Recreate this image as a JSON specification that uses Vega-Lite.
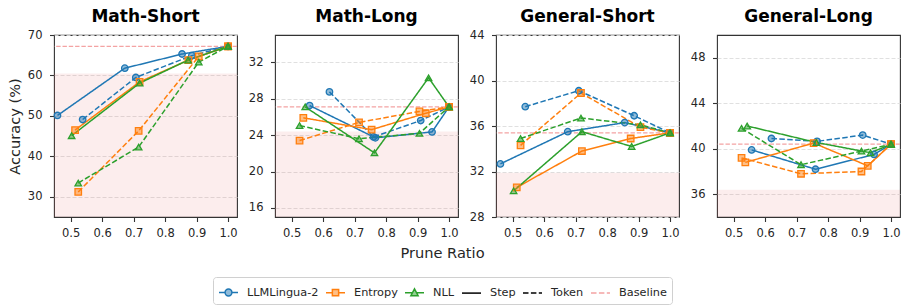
{
  "$schema": "https://vega.github.io/schema/vega-lite/v6.json",
  "padding": {"left": 6, "top": 6, "right": 3, "bottom": 3},
  "bounds": "flush",
  "spacing": 38,
  "datasets": {
    "ref": [
      {"p": "Math-Short", "base": 67.2, "shade": 60.5},
      {"p": "Math-Long", "base": 27.1, "shade": 24.4},
      {"p": "General-Short", "base": 35.4, "shade": 31.9},
      {"p": "General-Long", "base": 40.4, "shade": 36.4}
    ],
    "acc": [
      {"p": "Math-Short", "m": "LLMLingua-2", "t": "Step", "r": 0.458, "a": 50.1},
      {"p": "Math-Short", "m": "LLMLingua-2", "t": "Step", "r": 0.672, "a": 61.8},
      {"p": "Math-Short", "m": "LLMLingua-2", "t": "Step", "r": 0.854, "a": 65.3},
      {"p": "Math-Short", "m": "LLMLingua-2", "t": "Step", "r": 1.0, "a": 67.2},
      {"p": "Math-Short", "m": "LLMLingua-2", "t": "Token", "r": 0.538, "a": 49.1},
      {"p": "Math-Short", "m": "LLMLingua-2", "t": "Token", "r": 0.707, "a": 59.5},
      {"p": "Math-Short", "m": "LLMLingua-2", "t": "Token", "r": 0.885, "a": 64.9},
      {"p": "Math-Short", "m": "LLMLingua-2", "t": "Token", "r": 1.0, "a": 67.2},
      {"p": "Math-Short", "m": "Entropy", "t": "Step", "r": 0.514, "a": 46.5},
      {"p": "Math-Short", "m": "Entropy", "t": "Step", "r": 0.719, "a": 58.4},
      {"p": "Math-Short", "m": "Entropy", "t": "Step", "r": 0.874, "a": 63.8},
      {"p": "Math-Short", "m": "Entropy", "t": "Step", "r": 1.0, "a": 67.2},
      {"p": "Math-Short", "m": "Entropy", "t": "Token", "r": 0.524, "a": 31.2},
      {"p": "Math-Short", "m": "Entropy", "t": "Token", "r": 0.716, "a": 46.3},
      {"p": "Math-Short", "m": "Entropy", "t": "Token", "r": 0.907, "a": 64.7},
      {"p": "Math-Short", "m": "Entropy", "t": "Token", "r": 1.0, "a": 67.2},
      {"p": "Math-Short", "m": "NLL", "t": "Step", "r": 0.503, "a": 45.1},
      {"p": "Math-Short", "m": "NLL", "t": "Step", "r": 0.719, "a": 58.1},
      {"p": "Math-Short", "m": "NLL", "t": "Step", "r": 0.873, "a": 63.8},
      {"p": "Math-Short", "m": "NLL", "t": "Step", "r": 1.0, "a": 67.2},
      {"p": "Math-Short", "m": "NLL", "t": "Token", "r": 0.524, "a": 33.4},
      {"p": "Math-Short", "m": "NLL", "t": "Token", "r": 0.716, "a": 42.3},
      {"p": "Math-Short", "m": "NLL", "t": "Token", "r": 0.907, "a": 63.3},
      {"p": "Math-Short", "m": "NLL", "t": "Token", "r": 1.0, "a": 67.2},

      {"p": "Math-Long", "m": "LLMLingua-2", "t": "Step", "r": 0.557, "a": 27.25},
      {"p": "Math-Long", "m": "LLMLingua-2", "t": "Step", "r": 0.766, "a": 23.7},
      {"p": "Math-Long", "m": "LLMLingua-2", "t": "Step", "r": 0.946, "a": 24.35},
      {"p": "Math-Long", "m": "LLMLingua-2", "t": "Step", "r": 1.0, "a": 27.1},
      {"p": "Math-Long", "m": "LLMLingua-2", "t": "Token", "r": 0.62, "a": 28.75},
      {"p": "Math-Long", "m": "LLMLingua-2", "t": "Token", "r": 0.76, "a": 23.8},
      {"p": "Math-Long", "m": "LLMLingua-2", "t": "Token", "r": 0.91, "a": 25.6},
      {"p": "Math-Long", "m": "LLMLingua-2", "t": "Token", "r": 1.0, "a": 27.1},
      {"p": "Math-Long", "m": "Entropy", "t": "Step", "r": 0.537, "a": 25.9},
      {"p": "Math-Long", "m": "Entropy", "t": "Step", "r": 0.754, "a": 24.6},
      {"p": "Math-Long", "m": "Entropy", "t": "Step", "r": 0.926, "a": 26.4},
      {"p": "Math-Long", "m": "Entropy", "t": "Step", "r": 1.0, "a": 27.1},
      {"p": "Math-Long", "m": "Entropy", "t": "Token", "r": 0.525, "a": 23.4},
      {"p": "Math-Long", "m": "Entropy", "t": "Token", "r": 0.714, "a": 25.4},
      {"p": "Math-Long", "m": "Entropy", "t": "Token", "r": 0.906, "a": 26.6},
      {"p": "Math-Long", "m": "Entropy", "t": "Token", "r": 1.0, "a": 27.1},
      {"p": "Math-Long", "m": "NLL", "t": "Step", "r": 0.543, "a": 27.1},
      {"p": "Math-Long", "m": "NLL", "t": "Step", "r": 0.763, "a": 22.05},
      {"p": "Math-Long", "m": "NLL", "t": "Step", "r": 0.935, "a": 30.3},
      {"p": "Math-Long", "m": "NLL", "t": "Step", "r": 1.0, "a": 27.1},
      {"p": "Math-Long", "m": "NLL", "t": "Token", "r": 0.525, "a": 25.05},
      {"p": "Math-Long", "m": "NLL", "t": "Token", "r": 0.714, "a": 23.6},
      {"p": "Math-Long", "m": "NLL", "t": "Token", "r": 0.906, "a": 24.2},
      {"p": "Math-Long", "m": "NLL", "t": "Token", "r": 1.0, "a": 27.1},

      {"p": "General-Short", "m": "LLMLingua-2", "t": "Step", "r": 0.461, "a": 32.67},
      {"p": "General-Short", "m": "LLMLingua-2", "t": "Step", "r": 0.675, "a": 35.5},
      {"p": "General-Short", "m": "LLMLingua-2", "t": "Step", "r": 0.856, "a": 36.3},
      {"p": "General-Short", "m": "LLMLingua-2", "t": "Step", "r": 1.0, "a": 35.4},
      {"p": "General-Short", "m": "LLMLingua-2", "t": "Token", "r": 0.54, "a": 37.7},
      {"p": "General-Short", "m": "LLMLingua-2", "t": "Token", "r": 0.71, "a": 39.1},
      {"p": "General-Short", "m": "LLMLingua-2", "t": "Token", "r": 0.886, "a": 36.9},
      {"p": "General-Short", "m": "LLMLingua-2", "t": "Token", "r": 1.0, "a": 35.4},
      {"p": "General-Short", "m": "Entropy", "t": "Step", "r": 0.513, "a": 30.6},
      {"p": "General-Short", "m": "Entropy", "t": "Step", "r": 0.72, "a": 33.8},
      {"p": "General-Short", "m": "Entropy", "t": "Step", "r": 0.875, "a": 34.9},
      {"p": "General-Short", "m": "Entropy", "t": "Step", "r": 1.0, "a": 35.4},
      {"p": "General-Short", "m": "Entropy", "t": "Token", "r": 0.525, "a": 34.3},
      {"p": "General-Short", "m": "Entropy", "t": "Token", "r": 0.717, "a": 38.9},
      {"p": "General-Short", "m": "Entropy", "t": "Token", "r": 0.906, "a": 35.9},
      {"p": "General-Short", "m": "Entropy", "t": "Token", "r": 1.0, "a": 35.4},
      {"p": "General-Short", "m": "NLL", "t": "Step", "r": 0.503, "a": 30.3},
      {"p": "General-Short", "m": "NLL", "t": "Step", "r": 0.72, "a": 35.5},
      {"p": "General-Short", "m": "NLL", "t": "Step", "r": 0.878, "a": 34.2},
      {"p": "General-Short", "m": "NLL", "t": "Step", "r": 1.0, "a": 35.4},
      {"p": "General-Short", "m": "NLL", "t": "Token", "r": 0.525, "a": 34.9},
      {"p": "General-Short", "m": "NLL", "t": "Token", "r": 0.717, "a": 36.7},
      {"p": "General-Short", "m": "NLL", "t": "Token", "r": 0.906, "a": 36.1},
      {"p": "General-Short", "m": "NLL", "t": "Token", "r": 1.0, "a": 35.4},

      {"p": "General-Long", "m": "LLMLingua-2", "t": "Step", "r": 0.557, "a": 39.9},
      {"p": "General-Long", "m": "LLMLingua-2", "t": "Step", "r": 0.76, "a": 38.2},
      {"p": "General-Long", "m": "LLMLingua-2", "t": "Step", "r": 0.946, "a": 39.5},
      {"p": "General-Long", "m": "LLMLingua-2", "t": "Step", "r": 1.0, "a": 40.4},
      {"p": "General-Long", "m": "LLMLingua-2", "t": "Token", "r": 0.62, "a": 40.9},
      {"p": "General-Long", "m": "LLMLingua-2", "t": "Token", "r": 0.765, "a": 40.65},
      {"p": "General-Long", "m": "LLMLingua-2", "t": "Token", "r": 0.91, "a": 41.2},
      {"p": "General-Long", "m": "LLMLingua-2", "t": "Token", "r": 1.0, "a": 40.4},
      {"p": "General-Long", "m": "Entropy", "t": "Step", "r": 0.537, "a": 38.8},
      {"p": "General-Long", "m": "Entropy", "t": "Step", "r": 0.754, "a": 40.5},
      {"p": "General-Long", "m": "Entropy", "t": "Step", "r": 0.926, "a": 38.5},
      {"p": "General-Long", "m": "Entropy", "t": "Step", "r": 1.0, "a": 40.4},
      {"p": "General-Long", "m": "Entropy", "t": "Token", "r": 0.525, "a": 39.2},
      {"p": "General-Long", "m": "Entropy", "t": "Token", "r": 0.714, "a": 37.8},
      {"p": "General-Long", "m": "Entropy", "t": "Token", "r": 0.906, "a": 38.0},
      {"p": "General-Long", "m": "Entropy", "t": "Token", "r": 1.0, "a": 40.4},
      {"p": "General-Long", "m": "NLL", "t": "Step", "r": 0.543, "a": 42.0},
      {"p": "General-Long", "m": "NLL", "t": "Step", "r": 0.763, "a": 40.55},
      {"p": "General-Long", "m": "NLL", "t": "Step", "r": 0.935, "a": 39.65},
      {"p": "General-Long", "m": "NLL", "t": "Step", "r": 1.0, "a": 40.4},
      {"p": "General-Long", "m": "NLL", "t": "Token", "r": 0.525, "a": 41.8},
      {"p": "General-Long", "m": "NLL", "t": "Token", "r": 0.714, "a": 38.6},
      {"p": "General-Long", "m": "NLL", "t": "Token", "r": 0.906, "a": 39.8},
      {"p": "General-Long", "m": "NLL", "t": "Token", "r": 1.0, "a": 40.4}
    ]
  },
  "hconcat": [
    {
      "width": 183, "height": 182,
      "title": {"text": "Math-Short", "offset": 3.5},
      "layer": [
        {"data": {"name": "ref"}, "transform": [{"filter": "datum.p === 'Math-Short'"}],
         "mark": {"type": "rect", "color": "#e34a4a", "opacity": 0.1},
         "encoding": {"y": {"field": "shade", "type": "quantitative", "scale": {"domain": [25, 70], "nice": false, "zero": false}, "axis": {"title": "Accuracy (%)", "values": [30, 40, 50, 60, 70]}}, "y2": {"datum": 25}}},
        {"data": {"name": "ref"}, "transform": [{"filter": "datum.p === 'Math-Short'"}],
         "mark": {"type": "rule", "color": "#f4a3a3", "strokeDash": [4.4, 1.9], "strokeWidth": 1.2},
         "encoding": {"y": {"field": "base", "type": "quantitative", "scale": {"domain": [25, 70], "nice": false, "zero": false}, "axis": {"title": "Accuracy (%)", "values": [30, 40, 50, 60, 70]}}}},
        {"data": {"name": "acc"}, "transform": [{"filter": "datum.p === 'Math-Short'"}],
         "mark": {"type": "line", "strokeWidth": 1.5},
         "encoding": {
           "x": {"field": "r", "type": "quantitative", "scale": {"domain": [0.447, 1.0285], "nice": false, "zero": false}, "axis": {"title": null, "values": [0.5, 0.6, 0.7, 0.8, 0.9, 1.0], "format": ".1f"}},
           "y": {"field": "a", "type": "quantitative", "scale": {"domain": [25, 70], "nice": false, "zero": false}, "axis": {"title": "Accuracy (%)", "values": [30, 40, 50, 60, 70]}},
           "color": {"field": "m", "type": "nominal", "scale": {"domain": ["LLMLingua-2", "Entropy", "NLL", "Step", "Token", "Baseline"], "range": ["#1f77b4", "#ff7f0e", "#2ca02c", "#000000", "#000000", "#f4a3a3"]},
             "legend": {"title": null, "orient": "none", "legendX": 159, "legendY": 242, "direction": "horizontal", "columns": 6, "columnPadding": 4, "labelOffset": 8, "padding": 5, "strokeColor": "#d0d0d0", "cornerRadius": 3, "fillColor": "#ffffff", "symbolSize": 361,
               "encode": {"symbols": {"update": {
                 "shape": {"signal": "datum.value === 'LLMLingua-2' ? 'M-1,0H-0.36M0.36,0H1M0.36,0A0.36,0.36,0,1,1,-0.36,0A0.36,0.36,0,1,1,0.36,0Z' : datum.value === 'Entropy' ? 'M-1,0H-0.33M0.33,0H1M-0.33,-0.33H0.33V0.33H-0.33Z' : datum.value === 'NLL' ? 'M-1,0H-0.22M0.22,0H1M0,-0.42L0.38,0.3H-0.38Z' : 'M-1,0H1'"},
                 "stroke": {"scale": "color", "field": "value"},
                 "fill": {"signal": "indexof(['LLMLingua-2','Entropy','NLL'], datum.value) >= 0 ? scale('color', datum.value) : 'transparent'"},
                 "fillOpacity": {"value": 0.5},
                 "strokeDash": {"signal": "datum.value === 'Token' || datum.value === 'Baseline' ? [5.5, 2.4] : []"},
                 "strokeWidth": {"value": 1.5},
                 "opacity": {"value": 1},
                 "size": {"value": 361}}}}}},
           "strokeDash": {"field": "t", "type": "nominal", "scale": {"domain": ["Step", "Token"], "range": [[1, 0], [5.5, 2.4]]}, "legend": null}
         }},
        {"data": {"name": "acc"}, "transform": [{"filter": "datum.p === 'Math-Short'"}],
         "mark": {"type": "point", "filled": true, "opacity": 1, "fillOpacity": 0.5, "size": 42},
         "encoding": {
           "x": {"field": "r", "type": "quantitative", "scale": {"domain": [0.447, 1.0285], "nice": false, "zero": false}, "axis": {"title": null, "values": [0.5, 0.6, 0.7, 0.8, 0.9, 1.0], "format": ".1f"}},
           "y": {"field": "a", "type": "quantitative", "scale": {"domain": [25, 70], "nice": false, "zero": false}, "axis": {"title": "Accuracy (%)", "values": [30, 40, 50, 60, 70]}},
           "color": {"field": "m", "type": "nominal", "legend": null},
           "shape": {"field": "m", "type": "nominal", "scale": {"domain": ["LLMLingua-2", "Entropy", "NLL"], "range": ["circle", "square", "triangle-up"]}, "legend": null}
         }},
        {"data": {"name": "acc"}, "transform": [{"filter": "datum.p === 'Math-Short'"}],
         "mark": {"type": "point", "filled": false, "opacity": 1, "strokeWidth": 1.3, "size": 42},
         "encoding": {
           "x": {"field": "r", "type": "quantitative", "scale": {"domain": [0.447, 1.0285], "nice": false, "zero": false}, "axis": {"title": null, "values": [0.5, 0.6, 0.7, 0.8, 0.9, 1.0], "format": ".1f"}},
           "y": {"field": "a", "type": "quantitative", "scale": {"domain": [25, 70], "nice": false, "zero": false}, "axis": {"title": "Accuracy (%)", "values": [30, 40, 50, 60, 70]}},
           "color": {"field": "m", "type": "nominal", "legend": null},
           "shape": {"field": "m", "type": "nominal", "legend": null}
         }}
      ]
    },
    {
      "width": 183, "height": 182,
      "title": {"text": "Math-Long", "offset": 9.5},
      "layer": [
        {"data": {"name": "ref"}, "transform": [{"filter": "datum.p === 'Math-Long'"}],
         "mark": {"type": "rect", "color": "#e34a4a", "opacity": 0.1},
         "encoding": {"y": {"field": "shade", "type": "quantitative", "scale": {"domain": [15, 35], "nice": false, "zero": false}, "axis": {"title": null, "values": [16, 20, 24, 28, 32]}}, "y2": {"datum": 15}}},
        {"data": {"name": "ref"}, "transform": [{"filter": "datum.p === 'Math-Long'"}],
         "mark": {"type": "rule", "color": "#f4a3a3", "strokeDash": [4.4, 1.9], "strokeWidth": 1.2},
         "encoding": {"y": {"field": "base", "type": "quantitative", "scale": {"domain": [15, 35], "nice": false, "zero": false}, "axis": {"title": null, "values": [16, 20, 24, 28, 32]}}}},
        {"data": {"name": "acc"}, "transform": [{"filter": "datum.p === 'Math-Long'"}],
         "mark": {"type": "line", "strokeWidth": 1.5},
         "encoding": {
           "x": {"field": "r", "type": "quantitative", "scale": {"domain": [0.447, 1.0285], "nice": false, "zero": false}, "axis": {"title": "Prune Ratio", "titleX": 167, "values": [0.5, 0.6, 0.7, 0.8, 0.9, 1.0], "format": ".1f"}},
           "y": {"field": "a", "type": "quantitative", "scale": {"domain": [15, 35], "nice": false, "zero": false}, "axis": {"title": null, "values": [16, 20, 24, 28, 32]}},
           "color": {"field": "m", "type": "nominal", "legend": null},
           "strokeDash": {"field": "t", "type": "nominal", "legend": null}
         }},
        {"data": {"name": "acc"}, "transform": [{"filter": "datum.p === 'Math-Long'"}],
         "mark": {"type": "point", "filled": true, "opacity": 1, "fillOpacity": 0.5, "size": 42},
         "encoding": {
           "x": {"field": "r", "type": "quantitative", "scale": {"domain": [0.447, 1.0285], "nice": false, "zero": false}, "axis": {"title": "Prune Ratio", "titleX": 167, "values": [0.5, 0.6, 0.7, 0.8, 0.9, 1.0], "format": ".1f"}},
           "y": {"field": "a", "type": "quantitative", "scale": {"domain": [15, 35], "nice": false, "zero": false}, "axis": {"title": null, "values": [16, 20, 24, 28, 32]}},
           "color": {"field": "m", "type": "nominal", "legend": null},
           "shape": {"field": "m", "type": "nominal", "legend": null}
         }},
        {"data": {"name": "acc"}, "transform": [{"filter": "datum.p === 'Math-Long'"}],
         "mark": {"type": "point", "filled": false, "opacity": 1, "strokeWidth": 1.3, "size": 42},
         "encoding": {
           "x": {"field": "r", "type": "quantitative", "scale": {"domain": [0.447, 1.0285], "nice": false, "zero": false}, "axis": {"title": "Prune Ratio", "titleX": 167, "values": [0.5, 0.6, 0.7, 0.8, 0.9, 1.0], "format": ".1f"}},
           "y": {"field": "a", "type": "quantitative", "scale": {"domain": [15, 35], "nice": false, "zero": false}, "axis": {"title": null, "values": [16, 20, 24, 28, 32]}},
           "color": {"field": "m", "type": "nominal", "legend": null},
           "shape": {"field": "m", "type": "nominal", "legend": null}
         }}
      ]
    },
    {
      "width": 183, "height": 182,
      "title": {"text": "General-Short", "offset": 3.5},
      "layer": [
        {"data": {"name": "ref"}, "transform": [{"filter": "datum.p === 'General-Short'"}],
         "mark": {"type": "rect", "color": "#e34a4a", "opacity": 0.1},
         "encoding": {"y": {"field": "shade", "type": "quantitative", "scale": {"domain": [28, 44], "nice": false, "zero": false}, "axis": {"title": null, "values": [28, 32, 36, 40, 44]}}, "y2": {"datum": 28}}},
        {"data": {"name": "ref"}, "transform": [{"filter": "datum.p === 'General-Short'"}],
         "mark": {"type": "rule", "color": "#f4a3a3", "strokeDash": [4.4, 1.9], "strokeWidth": 1.2},
         "encoding": {"y": {"field": "base", "type": "quantitative", "scale": {"domain": [28, 44], "nice": false, "zero": false}, "axis": {"title": null, "values": [28, 32, 36, 40, 44]}}}},
        {"data": {"name": "acc"}, "transform": [{"filter": "datum.p === 'General-Short'"}],
         "mark": {"type": "line", "strokeWidth": 1.5},
         "encoding": {
           "x": {"field": "r", "type": "quantitative", "scale": {"domain": [0.447, 1.0285], "nice": false, "zero": false}, "axis": {"title": null, "values": [0.5, 0.6, 0.7, 0.8, 0.9, 1.0], "format": ".1f"}},
           "y": {"field": "a", "type": "quantitative", "scale": {"domain": [28, 44], "nice": false, "zero": false}, "axis": {"title": null, "values": [28, 32, 36, 40, 44]}},
           "color": {"field": "m", "type": "nominal", "legend": null},
           "strokeDash": {"field": "t", "type": "nominal", "legend": null}
         }},
        {"data": {"name": "acc"}, "transform": [{"filter": "datum.p === 'General-Short'"}],
         "mark": {"type": "point", "filled": true, "opacity": 1, "fillOpacity": 0.5, "size": 42},
         "encoding": {
           "x": {"field": "r", "type": "quantitative", "scale": {"domain": [0.447, 1.0285], "nice": false, "zero": false}, "axis": {"title": null, "values": [0.5, 0.6, 0.7, 0.8, 0.9, 1.0], "format": ".1f"}},
           "y": {"field": "a", "type": "quantitative", "scale": {"domain": [28, 44], "nice": false, "zero": false}, "axis": {"title": null, "values": [28, 32, 36, 40, 44]}},
           "color": {"field": "m", "type": "nominal", "legend": null},
           "shape": {"field": "m", "type": "nominal", "legend": null}
         }},
        {"data": {"name": "acc"}, "transform": [{"filter": "datum.p === 'General-Short'"}],
         "mark": {"type": "point", "filled": false, "opacity": 1, "strokeWidth": 1.3, "size": 42},
         "encoding": {
           "x": {"field": "r", "type": "quantitative", "scale": {"domain": [0.447, 1.0285], "nice": false, "zero": false}, "axis": {"title": null, "values": [0.5, 0.6, 0.7, 0.8, 0.9, 1.0], "format": ".1f"}},
           "y": {"field": "a", "type": "quantitative", "scale": {"domain": [28, 44], "nice": false, "zero": false}, "axis": {"title": null, "values": [28, 32, 36, 40, 44]}},
           "color": {"field": "m", "type": "nominal", "legend": null},
           "shape": {"field": "m", "type": "nominal", "legend": null}
         }}
      ]
    },
    {
      "width": 183, "height": 182,
      "title": {"text": "General-Long", "offset": 9.5},
      "layer": [
        {"data": {"name": "ref"}, "transform": [{"filter": "datum.p === 'General-Long'"}],
         "mark": {"type": "rect", "color": "#e34a4a", "opacity": 0.1},
         "encoding": {"y": {"field": "shade", "type": "quantitative", "scale": {"domain": [34, 50], "nice": false, "zero": false}, "axis": {"title": null, "values": [36, 40, 44, 48]}}, "y2": {"datum": 34}}},
        {"data": {"name": "ref"}, "transform": [{"filter": "datum.p === 'General-Long'"}],
         "mark": {"type": "rule", "color": "#f4a3a3", "strokeDash": [4.4, 1.9], "strokeWidth": 1.2},
         "encoding": {"y": {"field": "base", "type": "quantitative", "scale": {"domain": [34, 50], "nice": false, "zero": false}, "axis": {"title": null, "values": [36, 40, 44, 48]}}}},
        {"data": {"name": "acc"}, "transform": [{"filter": "datum.p === 'General-Long'"}],
         "mark": {"type": "line", "strokeWidth": 1.5},
         "encoding": {
           "x": {"field": "r", "type": "quantitative", "scale": {"domain": [0.447, 1.0285], "nice": false, "zero": false}, "axis": {"title": null, "values": [0.5, 0.6, 0.7, 0.8, 0.9, 1.0], "format": ".1f"}},
           "y": {"field": "a", "type": "quantitative", "scale": {"domain": [34, 50], "nice": false, "zero": false}, "axis": {"title": null, "values": [36, 40, 44, 48]}},
           "color": {"field": "m", "type": "nominal", "legend": null},
           "strokeDash": {"field": "t", "type": "nominal", "legend": null}
         }},
        {"data": {"name": "acc"}, "transform": [{"filter": "datum.p === 'General-Long'"}],
         "mark": {"type": "point", "filled": true, "opacity": 1, "fillOpacity": 0.5, "size": 42},
         "encoding": {
           "x": {"field": "r", "type": "quantitative", "scale": {"domain": [0.447, 1.0285], "nice": false, "zero": false}, "axis": {"title": null, "values": [0.5, 0.6, 0.7, 0.8, 0.9, 1.0], "format": ".1f"}},
           "y": {"field": "a", "type": "quantitative", "scale": {"domain": [34, 50], "nice": false, "zero": false}, "axis": {"title": null, "values": [36, 40, 44, 48]}},
           "color": {"field": "m", "type": "nominal", "legend": null},
           "shape": {"field": "m", "type": "nominal", "legend": null}
         }},
        {"data": {"name": "acc"}, "transform": [{"filter": "datum.p === 'General-Long'"}],
         "mark": {"type": "point", "filled": false, "opacity": 1, "strokeWidth": 1.3, "size": 42},
         "encoding": {
           "x": {"field": "r", "type": "quantitative", "scale": {"domain": [0.447, 1.0285], "nice": false, "zero": false}, "axis": {"title": null, "values": [0.5, 0.6, 0.7, 0.8, 0.9, 1.0], "format": ".1f"}},
           "y": {"field": "a", "type": "quantitative", "scale": {"domain": [34, 50], "nice": false, "zero": false}, "axis": {"title": null, "values": [36, 40, 44, 48]}},
           "color": {"field": "m", "type": "nominal", "legend": null},
           "shape": {"field": "m", "type": "nominal", "legend": null}
         }}
      ]
    }
  ],
  "config": {
    "font": "DejaVu Sans",
    "view": {"stroke": "#333333", "strokeWidth": 1.1},
    "axis": {
      "labelFont": "DejaVu Sans", "labelFontSize": 11.5, "labelColor": "#262626",
      "tickColor": "#333333", "tickSize": 4.5, "tickWidth": 1.1, "domain": false,
      "titleFont": "DejaVu Sans", "titleFontSize": 14.6, "titleFontWeight": "normal", "titleColor": "#262626",
      "gridColor": "#dcdcdc", "gridDash": [4, 2], "gridWidth": 0.9
    },
    "axisX": {"grid": false, "labelPadding": 6, "titlePadding": 6},
    "axisY": {"grid": true, "labelPadding": 7.5, "titlePadding": 5},
    "title": {"font": "DejaVu Sans", "fontSize": 17, "fontWeight": "bold", "color": "#000000", "anchor": "middle"},
    "legend": {"labelFont": "DejaVu Sans", "labelFontSize": 11.3, "labelColor": "#262626"}
  }
}
